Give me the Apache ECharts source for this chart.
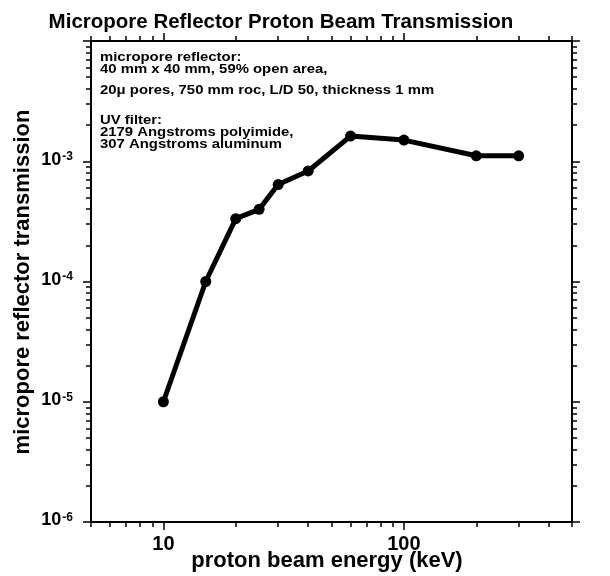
<!DOCTYPE html>
<html>
<head>
<meta charset="utf-8">
<script src="https://cdn.jsdelivr.net/npm/echarts@6/dist/echarts.min.js"></script>
<style>
  html, body { margin: 0; background: #fff; }
  #chart { width: 610px; height: 576px; }
</style>
</head>
<body>
<div id="chart"></div>
<script>
// proton energy (keV) vs. transmission
const energy = [10, 15, 20, 25, 30, 40, 60, 100, 200, 300];
const transmission = [1.0e-5, 1.0e-4, 3.33e-4, 3.98e-4, 6.4e-4, 8.3e-4, 1.62e-3, 1.5e-3, 1.11e-3, 1.11e-3];

const xMajorTicks = [10, 100];
const xMinorTicks = [5, 6, 7, 8, 9, 20, 30, 40, 50, 60, 70, 80, 90, 200, 300, 400, 500];
const xLabels = [10, 100];
const yMajorTicks = [1e-6, 1e-5, 1e-4, 1e-3, 1e-2];
const yMinorTicks = [1e-6, 1e-5, 1e-4, 1e-3].flatMap(d => [2, 3, 4, 5, 6, 7, 8, 9].map(m => m * d));
const yLabels = [1e-6, 1e-5, 1e-4, 1e-3];

const noteLines = [
  'micropore reflector:',
  '40 mm x 40 mm, 59% open area,',
  '20\u03bc pores, 750 mm roc, L/D 50, thickness 1 mm',
  'UV filter:',
  '2179 Angstroms polyimide,',
  '307 Angstroms aluminum'
];
const noteY = [57.5, 69.5, 91, 120.5, 133, 144.5];

const font = '"Liberation Sans", Arial, sans-serif';

function logAxis(position, min, max, ticks, len, label) {
  return {
    type: 'log',
    logBase: 10,
    position,
    min,
    max,
    axisLine: { show: true, onZero: false, lineStyle: { color: '#000', width: 2 } },
    axisTick: { show: true, inside: false, length: len, customValues: ticks, lineStyle: { color: '#000', width: 1.5 } },
    axisLabel: label || { show: false },
    splitLine: { show: false },
    minorTick: { show: false },
    minorSplitLine: { show: false }
  };
}

const xLabel = {
  show: true,
  customValues: xLabels,
  fontSize: 20,
  fontWeight: 'bold',
  fontFamily: font,
  color: '#000',
  margin: 12,
  formatter: v => String(Math.round(v))
};

const yLabel = {
  show: true,
  customValues: yLabels,
  color: '#000',
  margin: 18,
  padding: [0, 0, 3, 0],
  formatter: v => '{b|10}{s|' + Math.round(Math.log10(v)) + '}',
  rich: {
    b: { fontSize: 18, fontWeight: 'bold', fontFamily: font, color: '#000', lineHeight: 18, verticalAlign: 'bottom' },
    s: { fontSize: 12, fontWeight: 'bold', fontFamily: font, color: '#000', lineHeight: 12, verticalAlign: 'top', padding: [0, 0, 12, 1] }
  }
};

const chart = echarts.init(document.getElementById('chart'));

chart.setOption({
  animation: false,
  backgroundColor: '#fff',
  grid: { left: 91, right: 38, top: 41, bottom: 54 },
  xAxis: [
    logAxis('bottom', 5, 500, xMajorTicks, 8, xLabel),
    logAxis('bottom', 5, 500, xMinorTicks, 5),
    logAxis('top', 5, 500, xMajorTicks, 8),
    logAxis('top', 5, 500, xMinorTicks, 5)
  ],
  yAxis: [
    logAxis('left', 1e-6, 1e-2, yMajorTicks, 8, yLabel),
    logAxis('left', 1e-6, 1e-2, yMinorTicks, 5),
    logAxis('right', 1e-6, 1e-2, yMajorTicks, 8),
    logAxis('right', 1e-6, 1e-2, yMinorTicks, 5)
  ],
  graphic: [
    {
      type: 'text', x: 281, y: 22,
      style: { text: 'Micropore Reflector Proton Beam Transmission', fill: '#000', font: 'bold 20.5px ' + font, align: 'center', verticalAlign: 'middle' }
    },
    {
      type: 'text', x: 327, y: 561,
      style: { text: 'proton beam energy (keV)', fill: '#000', font: 'bold 22px ' + font, align: 'center', verticalAlign: 'middle' }
    },
    {
      type: 'text', x: 23, y: 282, rotation: Math.PI / 2,
      style: { text: 'micropore reflector transmission', fill: '#000', font: 'bold 22px ' + font, align: 'center', verticalAlign: 'middle' }
    },
    ...noteLines.map((t, i) => ({
      type: 'text', x: 100, y: noteY[i], scaleX: 1.24,
      style: { text: t, fill: '#000', font: 'bold 12px ' + font, align: 'left', verticalAlign: 'middle' }
    }))
  ],
  series: [
    {
      type: 'line',
      xAxisIndex: 0,
      yAxisIndex: 0,
      data: energy.map((e, i) => [e, transmission[i]]),
      symbol: 'circle',
      symbolSize: 11,
      lineStyle: { color: '#000', width: 5 },
      itemStyle: { color: '#000' },
      z: 5
    }
  ]
});
</script>
</body>
</html>
